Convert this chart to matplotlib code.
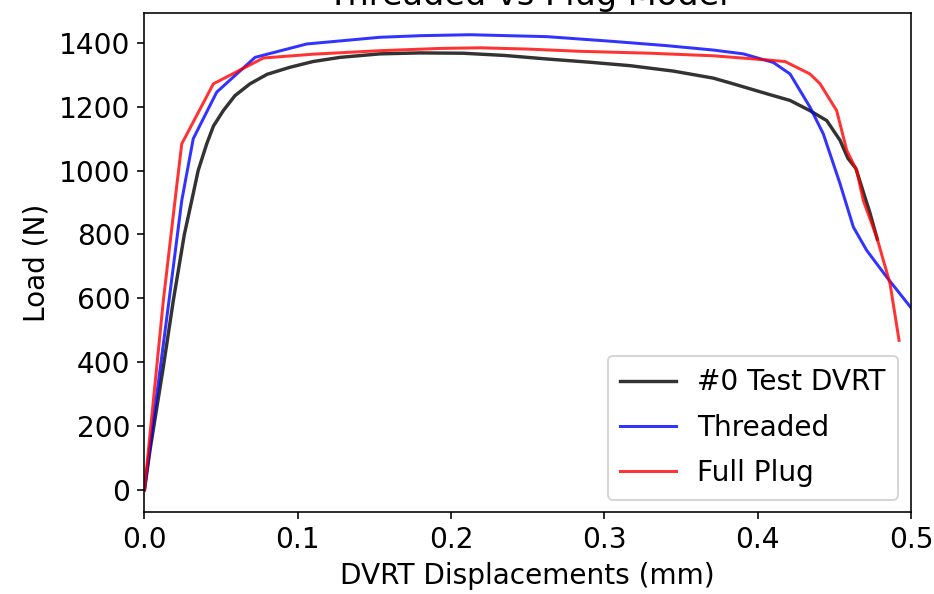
import matplotlib
matplotlib.use("Agg")
import matplotlib.pyplot as plt

# Measured load-displacement curve (DVRT test #0)
test_disp = [0.0, 0.0036, 0.0123, 0.0188, 0.0260, 0.0308, 0.0350, 0.0406, 0.0450,
             0.0514, 0.0590, 0.0688, 0.0800, 0.0949, 0.1100, 0.1275, 0.1536, 0.1800,
             0.2078, 0.2350, 0.2624, 0.2900, 0.3167, 0.3450, 0.3710, 0.3841, 0.4059,
             0.4211, 0.4341, 0.4450, 0.4537, 0.4588, 0.4640, 0.4733, 0.4780]
test_load = [0, 124, 385, 593, 800, 906, 1000, 1084, 1140,
             1188, 1235, 1272, 1302, 1324, 1342, 1355, 1366, 1369,
             1368, 1361, 1350, 1340, 1329, 1312, 1290, 1272, 1241,
             1220, 1188, 1157, 1095, 1039, 1007, 866, 785]

# FE model with threaded connection
thr_disp = [0.0, 0.0160, 0.0243, 0.0318, 0.0471, 0.0721, 0.1058, 0.1536, 0.1800,
            0.2123, 0.2624, 0.3058, 0.3400, 0.3710, 0.3906, 0.4102, 0.4211, 0.4341,
            0.4428, 0.4537, 0.4624, 0.4711, 0.4842, 0.4997, 0.5100]
thr_load = [0, 593, 906, 1100, 1246, 1355, 1397, 1418, 1423,
            1426, 1420, 1405, 1392, 1378, 1366, 1339, 1303, 1199,
            1115, 959, 823, 750, 666, 572, 520]

# FE model with full plug
plug_disp = [0.0, 0.0123, 0.0199, 0.0243, 0.0449, 0.0775, 0.1100, 0.1536, 0.1927,
             0.2189, 0.2500, 0.2841, 0.3300, 0.3710, 0.4059, 0.4178, 0.4341, 0.4407,
             0.4515, 0.4581, 0.4646, 0.4689, 0.4776, 0.4863, 0.4922]
plug_load = [0, 593, 906, 1084, 1272, 1353, 1365, 1376, 1383,
             1385, 1381, 1374, 1368, 1360, 1347, 1342, 1303, 1272,
             1188, 1063, 1000, 906, 792, 646, 468]

series_labels = ["#0 Test DVRT", "Threaded", "Full Plug"]
x_ticks = [0.0, 0.1, 0.2, 0.3, 0.4, 0.5]
y_ticks = [0, 200, 400, 600, 800, 1000, 1200, 1400]

plt.rcParams["font.family"] = "DejaVu Sans"
plt.rcParams["font.size"] = 14

fig = plt.figure(figsize=(934 / 144, 594 / 144), dpi=144)
ax = fig.add_axes([0.1547, 0.1375, 0.8207, 0.8411])

ax.plot(test_disp, test_load, color="k", alpha=0.8, lw=1.7, label=series_labels[0])
ax.plot(thr_disp, thr_load, color="b", alpha=0.8, lw=1.5, label=series_labels[1])
ax.plot(plug_disp, plug_load, color="r", alpha=0.8, lw=1.5, label=series_labels[2])

ax.set_xlim(0.0, 0.5)
ax.set_ylim(-71, 1495)
ax.set_xticks(x_ticks)
ax.set_yticks(y_ticks)
ax.set_xlabel("DVRT Displacements (mm)")
ax.set_ylabel("Load (N)")
ax.set_title("Threaded vs Plug Model", pad=4)
ax.legend(loc="lower right", borderaxespad=0.45, labelspacing=0.62,
          handletextpad=0.75, borderpad=0.45)

fig.savefig("out.png", dpi=144)
